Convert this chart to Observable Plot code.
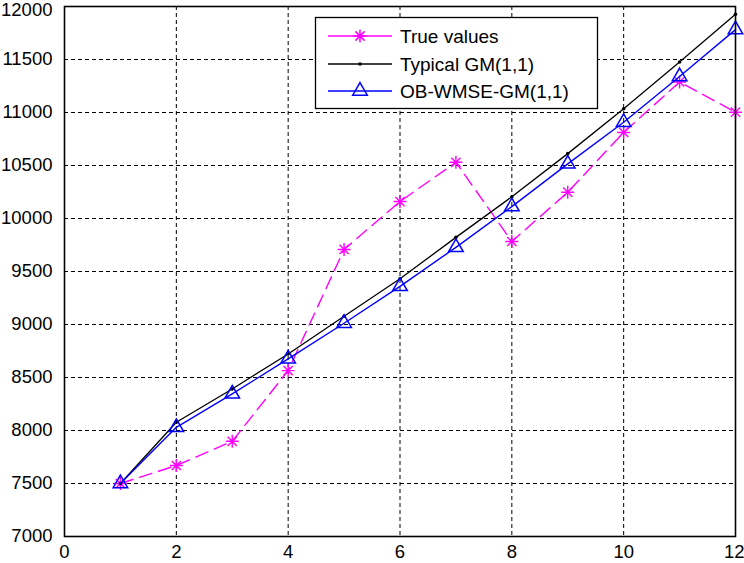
<!DOCTYPE html>
<html>
<head>
<meta charset="utf-8">
<script src="https://cdn.jsdelivr.net/npm/d3@7"></script>
<script src="https://cdn.jsdelivr.net/npm/@observablehq/plot@0.6"></script>
<style>
  html, body { margin: 0; padding: 0; background: #fff; }
  #chart { position: relative; width: 744px; height: 563px; }
</style>
</head>
<body>
<div id="chart"></div>
<script>
// ---- data ----
const steps = [1, 2, 3, 4, 5, 6, 7, 8, 9, 10, 11, 12];
const trueValues = [7500, 7670, 7898, 8565, 9708, 10160, 10530, 9783, 10248, 10812, 11288, 11003];
const typicalGM = [7500, 8078, 8392, 8722, 9078, 9431, 9822, 10205, 10612, 11036, 11476, 11926];
const obWmseGM = [7500, 8030, 8346, 8676, 9012, 9360, 9728, 10112, 10515, 10908, 11340, 11782];
const seriesNames = ["True values", "Typical GM(1,1)", "OB-WMSE-GM(1,1)"];
const xTicks = [0, 2, 4, 6, 8, 10, 12];
const yTicks = [7000, 7500, 8000, 8500, 9000, 9500, 10000, 10500, 11000, 11500, 12000];

const magenta = "#ff00ff";
const blue = "#0000ff";

// asterisk symbol (MATLAB "*": plus + cross)
const asterisk = {
  draw(context, size) {
    const r = Math.sqrt(size / Math.PI);
    const d = r * Math.SQRT1_2;
    context.moveTo(-r, 0); context.lineTo(r, 0);
    context.moveTo(0, -r); context.lineTo(0, r);
    context.moveTo(-d, -d); context.lineTo(d, d);
    context.moveTo(-d, d); context.lineTo(d, -d);
  }
};

const rows = (ys) => steps.map((s, i) => ({x: s, y: ys[i]}));
const dTrue = rows(trueValues);
const dTyp = rows(typicalGM);
const dOb = rows(obWmseGM);

const chart = Plot.plot({
  width: 744,
  height: 563,
  marginLeft: 64,
  marginRight: 9,
  marginTop: 6,
  marginBottom: 27,
  style: {fontFamily: "'Liberation Sans', Arial, sans-serif", fontSize: "18.5px", color: "#000", background: "#fff"},
  x: {domain: [0, 12]},
  y: {domain: [7000, 12000]},
  marks: [
    Plot.gridX(xTicks, {stroke: "#000", strokeOpacity: 1, strokeWidth: 1, strokeDasharray: "4,3"}),
    Plot.gridY(yTicks, {stroke: "#000", strokeOpacity: 1, strokeWidth: 1, strokeDasharray: "4,3"}),
    Plot.axisX(xTicks.slice(0, -1), {tickSize: 0, tickPadding: 8, tickFormat: d => String(d), label: null}),
    Plot.axisX(xTicks.slice(-1), {tickSize: 0, tickPadding: 8, tickFormat: d => String(d), label: null, textAnchor: "end", dx: 9}),
    Plot.axisY(yTicks.slice(0, -1), {tickSize: 0, tickPadding: 12, tickFormat: d => String(d), label: null}),
    Plot.axisY(yTicks.slice(-1), {tickSize: 0, tickPadding: 12, tickFormat: d => String(d), label: null, dy: 4}),
    Plot.line(dTrue, {x: "x", y: "y", stroke: magenta, strokeWidth: 1.4, strokeDasharray: "13,7"}),
    Plot.dot(dTrue, {x: "x", y: "y", symbol: asterisk, r: 6.5, stroke: magenta, strokeWidth: 1.4, fill: "none"}),
    Plot.line(dTyp, {x: "x", y: "y", stroke: "#000", strokeWidth: 1.3}),
    Plot.dot(dTyp, {x: "x", y: "y", r: 1.8, fill: "#000", stroke: "none"}),
    Plot.line(dOb, {x: "x", y: "y", stroke: blue, strokeWidth: 1.4}),
    Plot.dot(dOb, {x: "x", y: "y", symbol: "triangle", r: 5.4, stroke: blue, strokeWidth: 1.5, fill: "none"}),
    Plot.frame({stroke: "#000", strokeWidth: 1.6})
  ]
});
document.getElementById("chart").appendChild(chart);

// ---- legend (inside the axes, top middle) ----
const svg = d3.select(chart);
const lg = svg.append("g")
  .attr("font-family", "'Liberation Sans', Arial, sans-serif")
  .attr("font-size", 19)
  .attr("text-anchor", "start");
lg.append("rect").attr("x", 315.5).attr("y", 17.5).attr("width", 282).attr("height", 91)
  .attr("fill", "#fff").attr("stroke", "#000").attr("stroke-width", 1.3);
const legendItems = [
  {name: seriesNames[0], color: magenta, sym: asterisk, size: Math.PI * 6.5 * 6.5, fill: "none"},
  {name: seriesNames[1], color: "#000", sym: d3.symbolCircle, size: Math.PI * 1.8 * 1.8, fill: "#000"},
  {name: seriesNames[2], color: blue, sym: d3.symbolTriangle, size: Math.PI * 5.4 * 5.4, fill: "none"}
];
const rowY = [36, 64, 91];
legendItems.forEach((it, i) => {
  const y = rowY[i];
  lg.append("line").attr("x1", 328).attr("x2", 392).attr("y1", y).attr("y2", y)
    .attr("stroke", it.color).attr("stroke-width", 1.4);
  lg.append("path").attr("d", d3.symbol(it.sym, it.size)())
    .attr("transform", `translate(360,${y})`)
    .attr("stroke", it.fill === "none" ? it.color : "none").attr("stroke-width", 1.5)
    .attr("fill", it.fill);
  lg.append("text").attr("x", 400).attr("y", y).attr("dy", "0.35em")
    .attr("text-anchor", "start").attr("fill", "#000").text(it.name);
});
</script>
</body>
</html>
